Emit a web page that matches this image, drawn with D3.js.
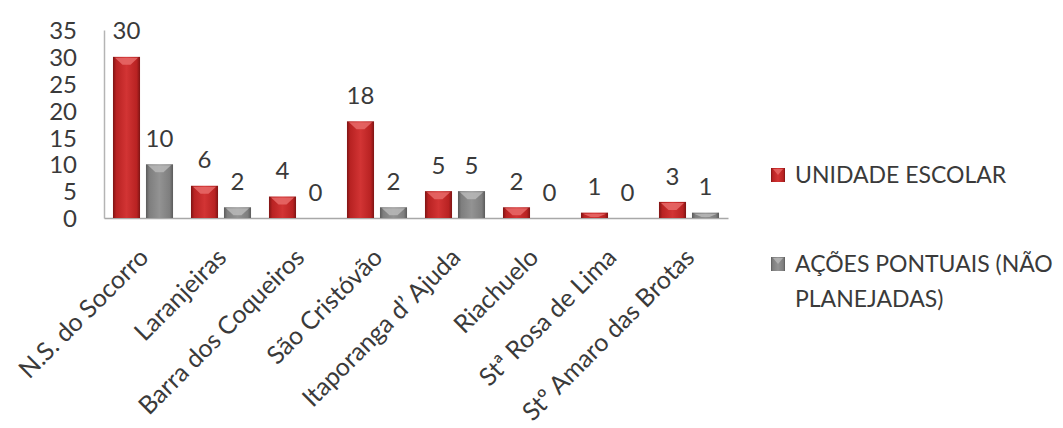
<!DOCTYPE html>
<html>
<head>
<meta charset="utf-8">
<script src="https://cdn.jsdelivr.net/npm/d3@7"></script>
<style>
  html, body { margin: 0; padding: 0; background: #fff; }
  svg { display: block; }
  text { font-family: Lato, "Open Sans", sans-serif; fill: #3a3a3a; }
</style>
</head>
<body>
<svg id="chart" width="1063" height="428"></svg>
<script>
const categories = ["N.S. do Socorro", "Laranjeiras", "Barra dos Coqueiros", "São Cristóvão",
  "Itaporanga d’ Ajuda", "Riachuelo", "Stª Rosa de Lima", "Stº Amaro das Brotas"];
const seriesNames = ["UNIDADE ESCOLAR", "AÇÕES PONTUAIS (NÃO PLANEJADAS)"];
const unidadeEscolar = [30, 6, 4, 18, 5, 2, 1, 3];
const acoesPontuais = [10, 2, 0, 2, 5, 0, 0, 1];
const yTicks = [0, 5, 10, 15, 20, 25, 30, 35];

const svg = d3.select("#chart");
const plot = { left: 104, right: 728, top: 30, bottom: 218 };

const x0 = d3.scaleBand().domain(categories).range([plot.left, plot.right])
  .paddingInner(0.23).paddingOuter(0.115);
const x1 = d3.scaleBand().domain([0, 1]).range([0, x0.bandwidth()]).paddingInner(0.18);
const y = d3.scaleLinear().domain([0, 35]).range([plot.bottom, plot.top]);

const defs = svg.append("defs");
function grad(id, stops) {
  const g = defs.append("linearGradient").attr("id", id).attr("x1", "0").attr("x2", "1").attr("y1", "0").attr("y2", "0");
  stops.forEach(s => g.append("stop").attr("offset", s[0]).attr("stop-color", s[1]));
}
grad("gRed", [["0%", "#7e1414"], ["12%", "#b82222"], ["50%", "#d23434"], ["88%", "#b82222"], ["100%", "#7e1414"]]);
grad("gGray", [["0%", "#5a5a5a"], ["12%", "#7e7e7e"], ["50%", "#939393"], ["88%", "#7e7e7e"], ["100%", "#5a5a5a"]]);
const fills = ["url(#gRed)", "url(#gGray)"];
const bevel = ["#e86a68", "#b8b8b8"];

// axes
const yAxis = d3.axisLeft(y).tickValues(yTicks).tickSize(0).tickPadding(27);
const gy = svg.append("g").attr("transform", `translate(${plot.left},0)`).call(yAxis);
gy.select(".domain").attr("stroke", "#b4b4b4").attr("stroke-width", 1.5);
gy.selectAll("text").style("font-size", "24px").style("fill", "#3a3a3a").attr("dy", "0.36em");

const xAxis = d3.axisBottom(x0).tickSize(0).tickFormat("");
const gx = svg.append("g").attr("transform", `translate(0,${plot.bottom})`).call(xAxis);
gx.select(".domain").attr("stroke", "#a8a8a8").attr("stroke-width", 1.5);

// x labels
svg.append("g").selectAll("text").data(categories).join("text")
  .attr("transform", d => `translate(${x0(d) + x0.bandwidth() / 2 + 7},${plot.bottom + 41}) rotate(-45)`)
  .attr("text-anchor", "end")
  .style("font-size", "25px")
  .text(d => d);

// bars
const data = categories.map((c, i) => ({ c, v: [unidadeEscolar[i], acoesPontuais[i]] }));
const groups = svg.append("g").selectAll("g").data(data).join("g")
  .attr("transform", d => `translate(${x0(d.c)},0)`);

groups.selectAll("rect.bar").data(d => d.v.map((v, k) => ({ v, k }))).join("rect")
  .attr("class", "bar")
  .attr("x", d => x1(d.k))
  .attr("y", d => y(d.v))
  .attr("width", x1.bandwidth())
  .attr("height", d => y(0) - y(d.v))
  .attr("fill", d => fills[d.k]);

// top bevel
groups.selectAll("path.bevel").data(d => d.v.map((v, k) => ({ v, k })).filter(e => e.v > 0)).join("path")
  .attr("class", "bevel")
  .attr("d", d => {
    const xa = x1(d.k) + 2, xb = x1(d.k) + x1.bandwidth() - 2;
    const t = y(d.v) + 1;
    const h = Math.min(7, (y(0) - y(d.v)) - 2);
    return `M${xa},${t}L${xb},${t}L${(xa + xb) / 2 + 4},${t + h}L${(xa + xb) / 2 - 4},${t + h}Z`;
  })
  .attr("fill", d => bevel[d.k])
  .attr("opacity", 0.85);

// value labels
groups.selectAll("text.val").data(d => d.v.map((v, k) => ({ v, k }))).join("text")
  .attr("class", "val")
  .attr("x", d => x1(d.k) + x1.bandwidth() / 2)
  .attr("y", d => y(d.v) - 26)
  .attr("dy", "0.36em")
  .attr("text-anchor", "middle")
  .style("font-size", "24px")
  .text(d => d.v);

// legend
const legend = svg.append("g");
const legItems = [
  { lines: ["UNIDADE ESCOLAR"], y: 175 },
  { lines: ["AÇÕES PONTUAIS (NÃO", "PLANEJADAS)"], y: 264 }
];
legItems.forEach((it, k) => {
  legend.append("rect").attr("x", 771).attr("y", it.y - 7).attr("width", 14).attr("height", 14)
    .attr("fill", fills[k]);
  legend.append("path")
    .attr("d", `M773,${it.y - 6}L783,${it.y - 6}L778,${it.y}Z`)
    .attr("fill", bevel[k]).attr("opacity", 0.8);
  const t = legend.append("text").attr("x", 795).attr("y", it.y)
    .style("font-size", "23px");
  it.lines.forEach((l, j) => t.append("tspan").attr("x", 795).attr("dy", j === 0 ? "0.36em" : "1.5em").text(l));
});
</script>
</body>
</html>
